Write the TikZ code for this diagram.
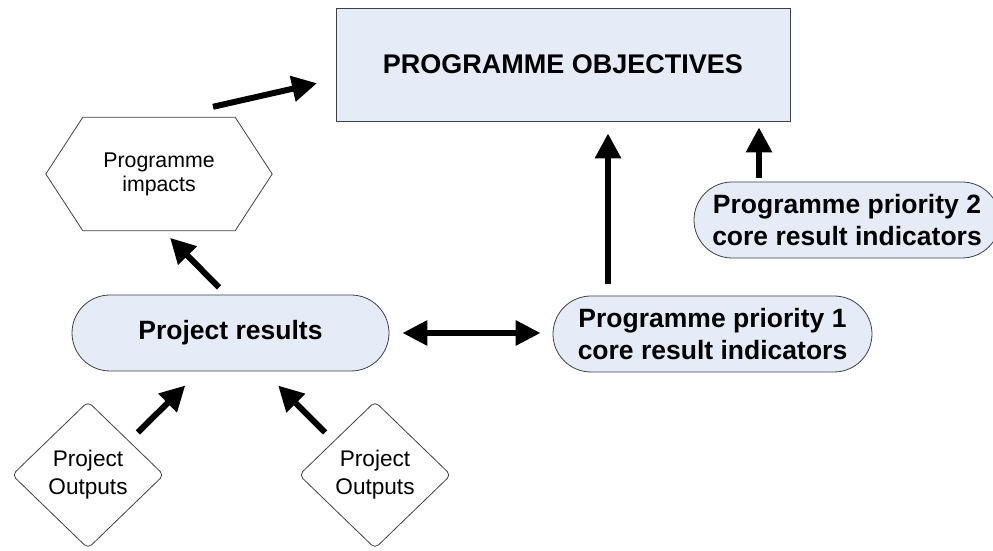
\documentclass[tikz,border=0pt]{standalone}
\usepackage{fontspec}
\setmainfont{Liberation Sans}
\usetikzlibrary{arrows.meta,shapes.geometric,shapes.misc}

\definecolor{boxblue}{RGB}{230,236,247}
\definecolor{boxline}{RGB}{64,64,64}

\begin{document}
\begin{tikzpicture}[x=1pt,y=1pt,
  box/.style={draw=boxline, line width=0.8pt, fill=boxblue, align=center, inner sep=0pt},
  pill/.style={box, rounded rectangle, minimum width=#1, minimum height=76pt,
    font=\fontsize{26.5}{32}\selectfont\bfseries},
  hexbox/.style={align=center, inner sep=0pt, minimum width=226pt, minimum height=113pt,
    font=\fontsize{21.3}{24}\selectfont},
  hexline/.style={draw=boxline, line width=0.8pt, line join=round},
  outbox/.style={draw=boxline, line width=0.8pt, fill=white, align=center, inner sep=0pt,
    diamond, minimum width=152pt, minimum height=147pt, rounded corners=5pt,
    font=\fontsize{22.6}{28}\selectfont},
  bigarrow/.style={line width=6pt, -{Triangle[length=25pt,width=25pt]}},
  bothways/.style={line width=6pt, {Triangle[length=25pt,width=24pt]}-{Triangle[length=25pt,width=24pt]}}
]
%
% fix the page size
%
\useasboundingbox (0,0) rectangle (993,551);

% draw the boxes

\node[box, minimum width=454pt, minimum height=113pt,
  font=\fontsize{27}{32}\selectfont\bfseries] (objectives) at (563,486.5) {PROGRAMME OBJECTIVES};

\node[hexbox] (impacts) at (159,377) {Programme\\impacts};
\draw[hexline] ([xshift=37pt]impacts.north west) -- ([xshift=-37pt]impacts.north east)
  -- (impacts.east) -- ([xshift=-37pt]impacts.south east)
  -- ([xshift=37pt]impacts.south west) -- (impacts.west) -- cycle;

\node[pill=317pt] (results) at (230.5,218) {Project results};
\node[pill=319pt] (prio1) at (712.5,217) {Programme priority 1\\core result indicators};
\node[pill=306pt] (prio2) at (847,331) {Programme priority 2\\core result indicators};

\node[outbox] (out1) at (88,76) {Project\\Outputs};
\node[outbox] (out2) at (375,76) {Project\\Outputs};

% draw the arrows

\draw[bigarrow, shorten >=19pt] ([shift={(54,10.5)}]impacts.north) -- ([yshift=-14.5pt]objectives.west);
\draw[bigarrow, shorten <=10pt, shorten >=10pt] ([xshift=-4.5pt]results.north) -- ([xshift=4pt]impacts.south);

\draw[bothways, shorten <=13pt, shorten >=12pt] (results.east) -- (results.east -| prio1.west);

\draw[bigarrow, shorten <=12pt, shorten >=12pt] ([xshift=-104.5pt]prio1.north) -- ([xshift=-104.5pt]prio1.north |- objectives.south);
\draw[bigarrow, shorten <=4pt, shorten >=6pt] ([xshift=-88pt]prio2.north) -- ([xshift=-88pt]prio2.north |- objectives.south);

\draw[bigarrow, shorten <=8pt, shorten >=20pt] ([xshift=6pt]out1.north east) -- ([xshift=-31pt]results.south);
\draw[bigarrow, shorten <=8pt, shorten >=20pt] ([xshift=-6pt]out2.north west) -- ([xshift=33.5pt]results.south);

\end{tikzpicture}
\end{document}
